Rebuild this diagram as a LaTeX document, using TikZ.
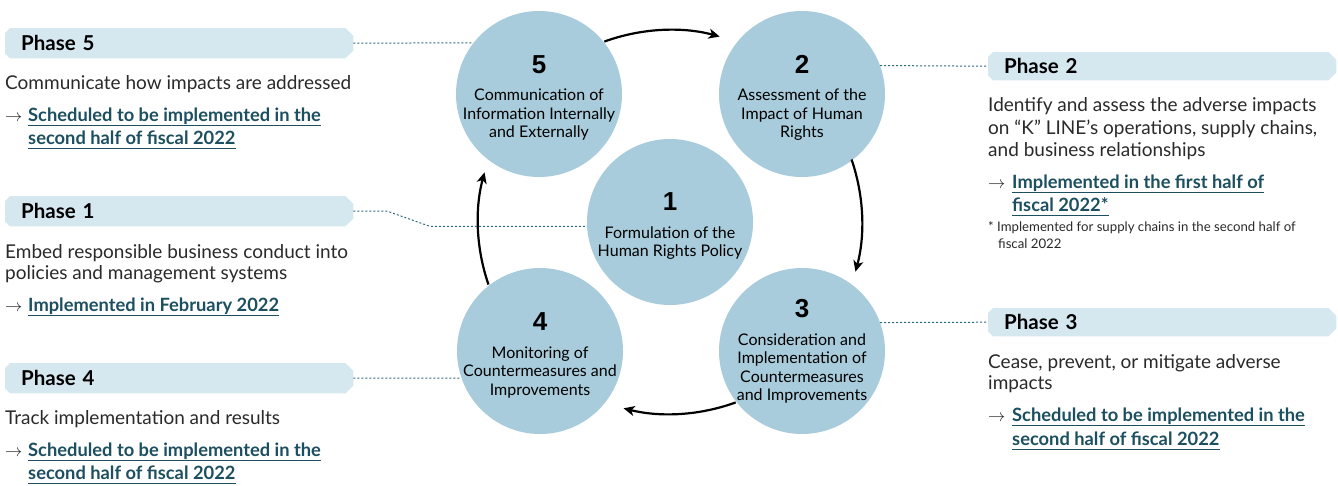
\documentclass[tikz,border=0pt]{standalone}
\usepackage{fontspec}
\setmainfont{Lato}
\newfontfamily\numfont{Liberation Sans}
\usetikzlibrary{arrows.meta,calc,backgrounds}
\definecolor{circfill}{HTML}{A8CCDB}
\definecolor{boxfill}{HTML}{D5E7EF}
\definecolor{linkcol}{HTML}{1C4F60}
\definecolor{dotcol}{HTML}{2F6B7D}
\definecolor{txtcol}{HTML}{2A2A2A}
\tikzset{
  circ/.style={circle, fill=circfill, minimum size=166pt, inner sep=0pt},
  circtext/.style={inner sep=0pt, align=center, font=\fontsize{16}{18.5}\selectfont, text=black},
  cyc/.style={line width=2.2pt, -{Stealth[length=11pt,width=10pt,inset=3pt]}},
  phbox/.style={rectangle, inner xsep=16pt, inner ysep=0pt, anchor=north west, align=left,
    font=\fontsize{20.5}{22}\selectfont\bfseries, text=black},
  desc/.style={anchor=base west, inner sep=0pt, font=\fontsize{19}{21}\selectfont, text=txtcol},
  link/.style={anchor=base west, inner sep=0pt, font=\fontsize{18.3}{20}\selectfont\bfseries, text=linkcol},
  arr/.style={anchor=base west, inner sep=0pt, font=\fontsize{17}{20}\selectfont, text=txtcol},
  foot/.style={anchor=base west, inner sep=0pt, font=\fontsize{13.2}{15}\selectfont, text=txtcol},
  uline/.style={draw=linkcol, line width=1.2pt},
  dots/.style={draw=dotcol, line width=1pt, dash pattern=on 2pt off 2pt},
}
\newcommand{\bignum}[1]{{\numfont\fontsize{26}{26}\selectfont\bfseries #1}}
\begin{document}
\begin{tikzpicture}[x=1pt,y=1pt]
\useasboundingbox (0,0) rectangle (1338,-485);
\begin{scope}[on background layer]
  \fill[white] (0,0) rectangle (1338,-485);
\end{scope}

% circles
\node[circ] (c5) at (539,-94) {};
\node[circ] (c2) at (802,-94) {};
\node[circ] (c1) at (670,-222) {};
\node[circ] (c4) at (540,-351) {};
\node[circ] (c3) at (802,-351) {};
\node[circtext] (t5) at ([yshift=-4pt]c5.center) {\bignum{5}\\[9pt]Communication of\\Information Internally\\and Externally};
\node[circtext] (t2) at ([yshift=-4pt]c2.center) {\bignum{2}\\[9pt]Assessment of the\\Impact of Human\\Rights};
\node[circtext] (t1) at ([yshift=-4.5pt]c1.center) {\bignum{1}\\[9pt]Formulation of the\\Human Rights Policy};
\node[circtext] (t4) at ([yshift=-4.5pt]c4.center) {\bignum{4}\\[9pt]Monitoring of\\Countermeasures and\\Improvements};
\node[circtext] (t3) at ([yshift=-0.5pt]c3.center) {\bignum{3}\\[9pt]Consideration and\\Implementation of\\Countermeasures\\and Improvements};

% cycle arrows
\draw[cyc] ($(c1.center)+(110:192)$) arc[start angle=110, end angle=75, radius=192];
\draw[cyc] ($(c1.center)+(19:192)$) arc[start angle=19, end angle=-15, radius=192];
\draw[cyc] ($(c1.center)+(-70:192)$) arc[start angle=-70, end angle=-104, radius=192];
\draw[cyc] ($(c1.center)+(199:192)$) arc[start angle=199, end angle=165, radius=192];

% phase boxes
\node[phbox, text width=316pt, minimum height=30pt] (b5) at (5,-28) {Phase 5};
\node[phbox, text width=316pt, minimum height=30pt] (b1) at (5,-196) {Phase 1};
\node[phbox, text width=316pt, minimum height=30pt] (b4) at (5,-363) {Phase 4};
\node[phbox, text width=316pt, minimum height=28pt] (b2) at (988,-52) {Phase 2};
\node[phbox, text width=316pt, minimum height=28pt] (b3) at (988,-308) {Phase 3};
\begin{scope}[on background layer]
\foreach \b in {b5,b1,b4,b2,b3}{
  \fill[boxfill] ([xshift=5pt]\b.north west) -- ([xshift=-8pt]\b.north east)
    -- ([yshift=-8pt]\b.north east) -- ([yshift=8pt]\b.south east)
    -- ([xshift=-8pt]\b.south east) -- ([xshift=5pt]\b.south west)
    -- ([yshift=5pt]\b.south west) -- ([yshift=-5pt]\b.north west) -- cycle;
}
\end{scope}

% dotted connectors
\draw[dots] (b5.east) -- (c5.142);
\coordinate (k1) at ($(b1.east)+(34,0)$);
\coordinate (k2) at ($(c1.183)+(-157,0)$);
\draw[dots] (b1.east) -- (k1) -- (k2) -- (c1.183);
\draw[dots] (b4.east) -- (c4.199);
\draw[dots] (c2.20) -- (b2.west);
\draw[dots] (c3.20) -- (b3.west);

% Phase 5 text
\node[desc] (d5) at (5,-89) {Communicate how impacts are addressed};
\node[arr] (a5) at (5,-121) {$\rightarrow$};
\node[link] (l5a) at (28,-121) {Scheduled to be implemented in the\ };
\node[link] (l5b) at (28,-144) {second half of fiscal 2022\ };
% Phase 1 text
\node[desc] (d1a) at (5,-258) {Embed responsible business conduct into};
\node[desc] (d1b) at (5,-279) {policies and management systems};
\node[arr] (a1) at (5,-311) {$\rightarrow$};
\node[link] (l1a) at (28,-311) {Implemented in February 2022\ };
% Phase 4 text
\node[desc] (d4) at (5,-424) {Track implementation and results};
\node[arr] (a4) at (5,-456) {$\rightarrow$};
\node[link] (l4a) at (28,-456) {Scheduled to be implemented in the\ };
\node[link] (l4b) at (28,-479) {second half of fiscal 2022\ };
% Phase 2 text
\node[desc] (d2a) at (988,-111) {Identify and assess the adverse impacts};
\node[desc] (d2b) at (988,-134) {on “K” LINE’s operations, supply chains,};
\node[desc] (d2c) at (988,-156) {and business relationships};
\node[arr] (a2) at (988,-188) {$\rightarrow$};
\node[link] (l2a) at (1012,-188) {Implemented in the first half of\ };
\node[link] (l2b) at (1012,-211) {fiscal 2022*};
\node[foot] (f2a) at (988,-231) {* Implemented for supply chains in the second half of};
\node[foot] (f2b) at (998,-248) {fiscal 2022};
% Phase 3 text
\node[desc] (d3a) at (988,-368) {Cease, prevent, or mitigate adverse};
\node[desc] (d3b) at (988,-389) {impacts};
\node[arr] (a3) at (988,-421) {$\rightarrow$};
\node[link] (l3a) at (1012,-421) {Scheduled to be implemented in the\ };
\node[link] (l3b) at (1012,-445) {second half of fiscal 2022\ };

% underlines
\foreach \n in {l5a,l5b,l1a,l4a,l4b,l2a,l2b,l3a,l3b}{
  \draw[uline] ([yshift=-4.5pt]\n.base west) -- ([yshift=-4.5pt]\n.base east);
}
\end{tikzpicture}
\end{document}
